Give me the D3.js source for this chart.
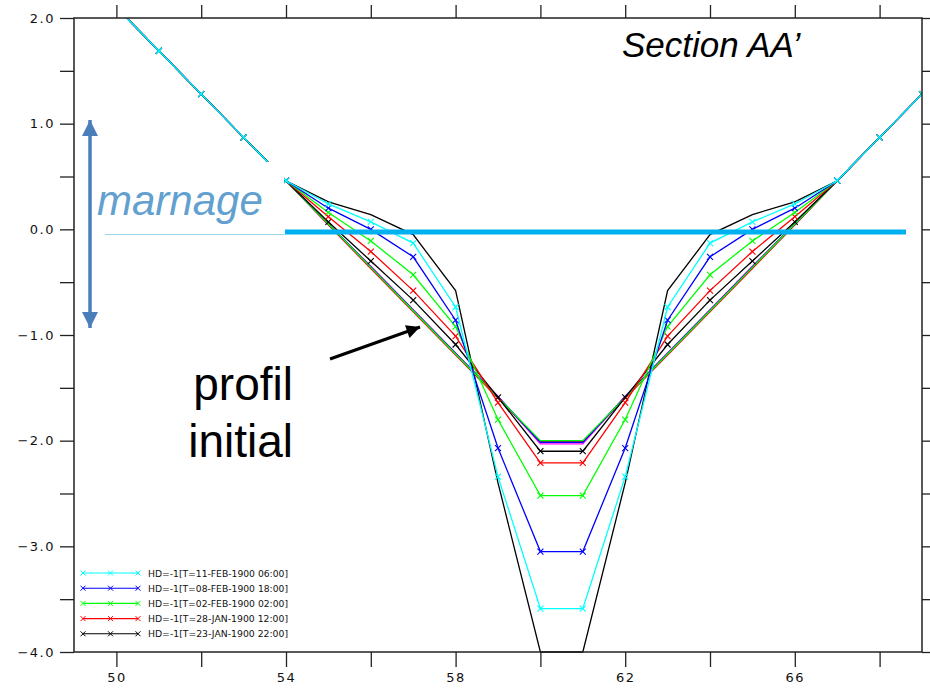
<!DOCTYPE html>
<html>
<head>
<meta charset="utf-8">
<script src="https://cdn.jsdelivr.net/npm/d3@7"></script>
<style>
  body { margin: 0; background: #fff; }
  svg { display: block; }
</style>
</head>
<body>
<svg id="chart" width="930" height="691"></svg>
<script>
// x positions of the profile points
const xs = [50, 51, 52, 53, 54, 55, 56, 57, 58, 59, 60, 61, 62, 63, 64, 65, 66, 67, 68, 69, 70, 71]

// line-only profiles (no markers)
const target = [2.10, 1.69, 1.28, 0.87, 0.46, 0.26, 0.14, -0.05, -0.58, -2.40, -4.00, -4.00, -2.40, -0.58, -0.05, 0.14, 0.26, 0.46, 0.87, 1.28, 1.69, 2.10]
const iniRed = [2.10, 1.69, 1.28, 0.87, 0.46, 0.04, -0.37, -0.78, -1.19, -1.60, -2.01, -2.01, -1.60, -1.19, -0.78, -0.37, 0.04, 0.46, 0.87, 1.28, 1.69, 2.10]
const iniMagenta = [2.10, 1.69, 1.28, 0.87, 0.46, 0.05, -0.35, -0.76, -1.17, -1.58, -2.03, -2.03, -1.58, -1.17, -0.76, -0.35, 0.05, 0.46, 0.87, 1.28, 1.69, 2.10]
const iniBlue = [2.10, 1.69, 1.28, 0.87, 0.46, 0.05, -0.355, -0.765, -1.175, -1.585, -2.015, -2.015, -1.585, -1.175, -0.765, -0.355, 0.05, 0.46, 0.87, 1.28, 1.69, 2.10]
const iniGreen = [2.10, 1.69, 1.28, 0.87, 0.46, 0.05, -0.36, -0.77, -1.18, -1.59, -2.00, -2.00, -1.59, -1.18, -0.77, -0.36, 0.05, 0.46, 0.87, 1.28, 1.69, 2.10]

// marked profiles (legend series)
const hdJan23 = [2.10, 1.69, 1.28, 0.87, 0.46, 0.07, -0.30, -0.67, -1.09, -1.59, -2.10, -2.10, -1.59, -1.09, -0.67, -0.30, 0.07, 0.46, 0.87, 1.28, 1.69, 2.10]
const hdJan28 = [2.10, 1.69, 1.28, 0.87, 0.46, 0.12, -0.21, -0.58, -1.01, -1.64, -2.21, -2.21, -1.64, -1.01, -0.58, -0.21, 0.12, 0.46, 0.87, 1.28, 1.69, 2.10]
const hdFeb02 = [2.10, 1.69, 1.28, 0.87, 0.46, 0.16, -0.11, -0.43, -0.92, -1.80, -2.52, -2.52, -1.80, -0.92, -0.43, -0.11, 0.16, 0.46, 0.87, 1.28, 1.69, 2.10]
const hdFeb08 = [2.10, 1.69, 1.28, 0.87, 0.46, 0.20, 0.00, -0.26, -0.86, -2.07, -3.05, -3.05, -2.07, -0.86, -0.26, 0.00, 0.20, 0.46, 0.87, 1.28, 1.69, 2.10]
const hdFeb11 = [2.10, 1.69, 1.28, 0.87, 0.46, 0.24, 0.07, -0.13, -0.735, -2.34, -3.59, -3.59, -2.34, -0.735, -0.13, 0.07, 0.24, 0.46, 0.87, 1.28, 1.69, 2.10]

const legendLabels = [
  'HD=-1[T=11-FEB-1900 06:00]',
  'HD=-1[T=08-FEB-1900 18:00]',
  'HD=-1[T=02-FEB-1900 02:00]',
  'HD=-1[T=28-JAN-1900 12:00]',
  'HD=-1[T=23-JAN-1900 22:00]'
]
const legendColors = ['#00ffff', '#0000ff', '#00ff00', '#ff0000', '#000000']

const xTicks = [50, 52, 54, 56, 58, 60, 62, 64, 66, 68]
const xLabelled = [50, 54, 58, 62, 66]
const yTicks = [-4, -3.5, -3, -2.5, -2, -1.5, -1, -0.5, 0, 0.5, 1, 1.5, 2]

// drawing order: first drawn is underneath
const series = [
  { values: target, color: '#000000', marks: false },
  { values: iniRed, color: '#ff0000', marks: false },
  { values: iniMagenta, color: '#ff00ff', marks: false },
  { values: iniBlue, color: '#0000ff', marks: false },
  { values: iniGreen, color: '#00ff00', marks: false },
  { values: hdJan23, color: '#000000', marks: true },
  { values: hdJan28, color: '#ff0000', marks: true },
  { values: hdFeb02, color: '#00ff00', marks: true },
  { values: hdFeb08, color: '#0000ff', marks: true },
  { values: hdFeb11, color: '#00ffff', marks: true }
]

const margin = { left: 74, right: 8, top: 18, bottom: 39 }
const width = 930
const height = 691
const svg = d3.select('#chart')

const x = d3.scaleLinear().domain([49, 69]).range([margin.left, width - margin.right])
const y = d3.scaleLinear().domain([-4, 2]).range([height - margin.bottom, margin.top])

const tickFont = '"DejaVu Sans", sans-serif'
const crossPath = 'M-3,-3L3,3M-3,3L3,-3'

svg.append('clipPath').attr('id', 'plotclip')
  .append('rect')
  .attr('x', x.range()[0]).attr('y', y.range()[1])
  .attr('width', x.range()[1] - x.range()[0])
  .attr('height', y.range()[0] - y.range()[1] + 1.5)

const plot = svg.append('g').attr('clip-path', 'url(#plotclip)')

const line = d3.line()
  .x((d, i) => x(xs[i]))
  .y(d => y(d))

series.forEach(s => {
  const g = plot.append('g')
  g.append('path')
    .datum(s.values)
    .attr('d', line)
    .attr('fill', 'none')
    .attr('stroke', s.color)
    .attr('stroke-width', 1.3)
  if (s.marks) {
    g.selectAll('path.mk')
      .data(s.values)
      .join('path')
      .attr('class', 'mk')
      .attr('d', crossPath)
      .attr('transform', (d, i) => `translate(${x(xs[i])},${y(d)})`)
      .attr('stroke', s.color)
      .attr('stroke-width', 1.1)
  }
})

// white box behind the "marnage" label
svg.append('rect')
  .attr('x', 96).attr('y', 162)
  .attr('width', 188).attr('height', 71)
  .attr('fill', '#fff')

// axes
const axisStyle = g => {
  g.select('.domain').remove()
  g.selectAll('.tick line').attr('stroke', '#222').attr('stroke-width', 1.3)
  g.selectAll('.tick text')
    .attr('font-family', tickFont)
    .attr('font-size', 13)
    .attr('letter-spacing', 1.5)
    .attr('fill', '#111')
}

svg.append('g')
  .attr('transform', `translate(0,${y(-4)})`)
  .call(d3.axisBottom(x).tickValues(xTicks).tickSize(15).tickPadding(6)
    .tickFormat(d => xLabelled.includes(d) ? d : ''))
  .call(axisStyle)

svg.append('g')
  .attr('transform', `translate(0,${y(2)})`)
  .call(d3.axisTop(x).tickValues(xTicks).tickSize(13).tickFormat(''))
  .call(axisStyle)

svg.append('g')
  .attr('transform', `translate(${x(49)},0)`)
  .call(d3.axisLeft(y).tickValues(yTicks).tickSize(14).tickPadding(5)
    .tickFormat(d => Number.isInteger(d) ? d3.format('.1f')(d) : ''))
  .call(axisStyle)

svg.append('g')
  .attr('transform', `translate(${x(69)},0)`)
  .call(d3.axisRight(y).tickValues(yTicks).tickSize(14).tickFormat(''))
  .call(axisStyle)

svg.append('rect')
  .attr('x', x(49)).attr('y', y(2))
  .attr('width', x(69) - x(49)).attr('height', y(-4) - y(2))
  .attr('fill', 'none')
  .attr('stroke', '#222')
  .attr('stroke-width', 1.5)

// legend
const legend = svg.append('g')
legendLabels.forEach((label, i) => {
  const ly = 573 + i * 15.2
  const row = legend.append('g').attr('transform', `translate(83,${ly})`)
  row.append('line')
    .attr('x1', 0).attr('x2', 55)
    .attr('stroke', legendColors[i]).attr('stroke-width', 1.1)
  row.selectAll('path')
    .data([0, 27.5, 55])
    .join('path')
    .attr('d', 'M-2.5,-2.5L2.5,2.5M-2.5,2.5L2.5,-2.5')
    .attr('transform', d => `translate(${d},0)`)
    .attr('stroke', legendColors[i]).attr('stroke-width', 1)
  row.append('text')
    .attr('x', 65).attr('y', 3.5)
    .attr('font-family', tickFont)
    .attr('font-size', 9)
    .attr('textLength', 140)
    .attr('lengthAdjust', 'spacingAndGlyphs')
    .attr('fill', '#111')
    .text(label)
})

// annotations
svg.append('line')
  .attr('x1', 105).attr('x2', 285)
  .attr('y1', 234.5).attr('y2', 234.5)
  .attr('stroke', '#9fd6ee').attr('stroke-width', 1)

svg.append('line')
  .attr('x1', 285).attr('x2', 906)
  .attr('y1', 232).attr('y2', 232)
  .attr('stroke', '#00b0f0').attr('stroke-width', 5)

const defs = svg.append('defs')
defs.append('marker')
  .attr('id', 'headBlue')
  .attr('viewBox', '0 0 10 10')
  .attr('refX', 10).attr('refY', 5)
  .attr('markerWidth', 4.6).attr('markerHeight', 4.6)
  .attr('markerUnits', 'strokeWidth')
  .attr('orient', 'auto-start-reverse')
  .append('path').attr('d', 'M0,0L10,5L0,10Z').attr('fill', '#4a7ebb')
defs.append('marker')
  .attr('id', 'headBlack')
  .attr('viewBox', '0 0 10 10')
  .attr('refX', 10).attr('refY', 5)
  .attr('markerWidth', 5).attr('markerHeight', 4.5)
  .attr('markerUnits', 'strokeWidth')
  .attr('orient', 'auto')
  .append('path').attr('d', 'M0,0L10,5L0,10Z').attr('fill', '#000')

svg.append('line')
  .attr('x1', 90).attr('x2', 90)
  .attr('y1', 120).attr('y2', 328)
  .attr('stroke', '#4a7ebb').attr('stroke-width', 3.5)
  .attr('marker-start', 'url(#headBlue)')
  .attr('marker-end', 'url(#headBlue)')

svg.append('text')
  .attr('x', 97).attr('y', 215)
  .attr('font-family', '"Liberation Sans", Arial, sans-serif')
  .attr('font-style', 'italic')
  .attr('font-size', 42)
  .attr('fill', '#62a0cf')
  .text('marnage')

svg.append('line')
  .attr('x1', 330).attr('y1', 359)
  .attr('x2', 420).attr('y2', 327)
  .attr('stroke', '#000').attr('stroke-width', 3)
  .attr('marker-end', 'url(#headBlack)')

const profil = svg.append('text')
  .attr('font-family', '"Liberation Sans", Arial, sans-serif')
  .attr('font-size', 46)
  .attr('text-anchor', 'end')
  .attr('fill', '#000')
profil.append('tspan').attr('x', 293).attr('y', 400).text('profil')
profil.append('tspan').attr('x', 293).attr('y', 457).text('initial')

svg.append('text')
  .attr('x', 622).attr('y', 57)
  .attr('font-family', '"Liberation Sans", Arial, sans-serif')
  .attr('font-style', 'italic')
  .attr('font-size', 35)
  .attr('fill', '#000')
  .text('Section AA\u2019')
</script>
</body>
</html>
